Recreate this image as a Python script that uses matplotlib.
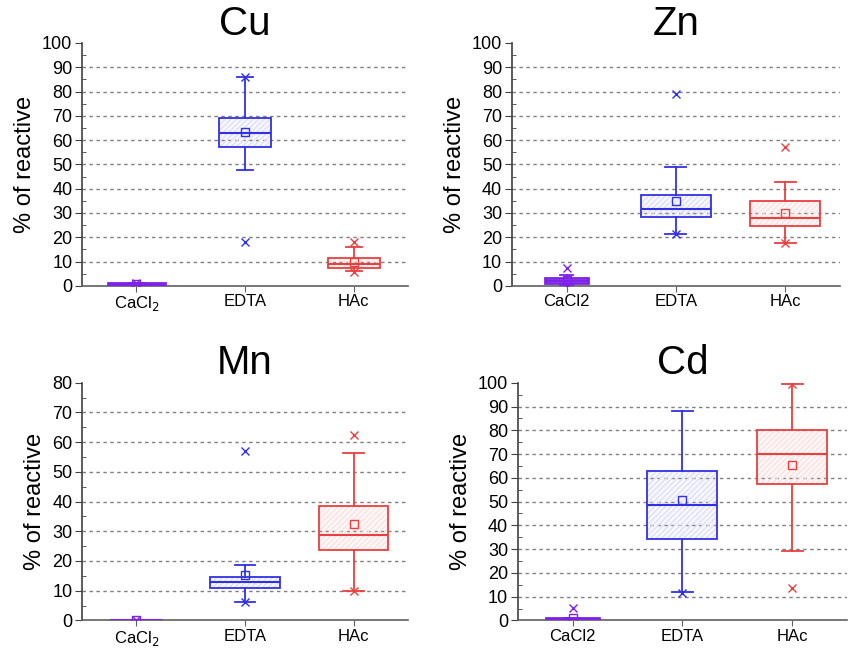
import matplotlib.pyplot as plt
from matplotlib.patches import PathPatch
from matplotlib.ticker import MultipleLocator

# extractants, same order in every panel
extractants_sub = ["CaCl$_2$", "EDTA", "HAc"]
extractants_plain = ["CaCl2", "EDTA", "HAc"]

# box stats: (whislo, q1, med, q3, whishi, mean)
cu_stats = [(0.0, 0.1, 0.5, 1.0, 1.1, 0.7),
            (47.5, 57.2, 62.8, 69.2, 86.0, 63.2),
            (6.0, 7.5, 9.0, 11.5, 16.0, 10.0)]
cu_fliers = [[1.3], [86.0, 18.2], [18.2, 5.5]]

zn_stats = [(0.3, 1.3, 2.1, 3.2, 4.3, 2.5),
            (21.3, 28.3, 31.5, 37.2, 48.8, 35.0),
            (17.6, 24.5, 27.9, 35.0, 42.7, 30.1)]
zn_fliers = [[7.3, 0.4], [79.0, 21.3], [57.2, 17.5]]

mn_stats = [(0.0, 0.05, 0.1, 0.2, 0.25, 0.1),
            (6.3, 10.9, 12.9, 14.7, 18.8, 15.3),
            (9.9, 23.6, 28.9, 38.4, 56.2, 32.6)]
mn_fliers = [[0.3], [57.1, 6.3], [62.4, 10.0]]

cd_stats = [(0.0, 0.1, 0.5, 1.0, 1.1, 0.9),
            (12.0, 34.3, 48.7, 62.7, 88.1, 50.5),
            (29.4, 57.5, 70.2, 80.0, 99.6, 65.4)]
cd_fliers = [[5.3], [11.6], [99.6, 13.6]]

colors = ["#7d22e6", "#3030e6", "#e8403f"]
hatch_colors = ["#e9defb", "#e0e0f5", "#f9e2e2"]
fill_colors = ["#f8f4ff", "#f7f7fd", "#fdf7f7"]

panels = [
    ("Cu", cu_stats, cu_fliers, extractants_sub, 100, [0.53, 0.48, 0.48], [0.0966, 0.561, 0.384, 0.373]),
    ("Zn", zn_stats, zn_fliers, extractants_plain, 100, [0.40, 0.64, 0.64], [0.603, 0.561, 0.386, 0.373]),
    ("Mn", mn_stats, mn_fliers, extractants_sub, 80, [0.48, 0.64, 0.64], [0.0966, 0.047, 0.384, 0.365]),
    ("Cd", cd_stats, cd_fliers, extractants_plain, 100, [0.48, 0.64, 0.64], [0.610, 0.047, 0.3875, 0.365]),
]

fig = plt.figure(figsize=(8.49, 6.51), dpi=100)
plt.rcParams['font.family'] = ['Liberation Sans', 'DejaVu Sans']

for title, stats, fliers, labels, ymax, widths, rect in panels:
    ax = fig.add_axes(rect)
    for i, (lo, q1, med, q3, hi, mean) in enumerate(stats):
        c = colors[i]
        st = dict(whislo=lo, q1=q1, med=med, q3=q3, whishi=hi,
                  mean=mean, fliers=fliers[i], label=labels[i])
        lw = 2.0 if i == 0 else 1.3   # the CaCl2 boxes are squashed to a thick bar
        res = ax.bxp([st], positions=[i + 1], widths=widths[i], patch_artist=True,
                     showmeans=True,
                     boxprops=dict(facecolor='none', edgecolor=c, linewidth=lw),
                     medianprops=dict(color=c, linewidth=1.5),
                     whiskerprops=dict(color=c, linewidth=1.3),
                     capprops=dict(color=c, linewidth=1.3),
                     capwidths=widths[i] * 0.3,
                     meanprops=dict(marker='s', markerfacecolor='none', markeredgecolor=c,
                                    markersize=6, markeredgewidth=1.0),
                     flierprops=dict(marker='x', markeredgecolor=c, markersize=5.5,
                                     markeredgewidth=1.0),
                     zorder=4)
        for box in res['boxes']:
            # pale fill under the grid, fine hatch above it
            ax.add_patch(PathPatch(box.get_path(), facecolor=fill_colors[i],
                                   edgecolor='none', zorder=1.5))
            ax.add_patch(PathPatch(box.get_path(), facecolor='none',
                                   edgecolor=hatch_colors[i], hatch='//////',
                                   linewidth=0, zorder=2.5))

    ax.set_xlim(0.5, 3.5)
    ax.set_ylim(0, ymax)
    ax.yaxis.set_major_locator(MultipleLocator(10))
    ax.yaxis.set_minor_locator(MultipleLocator(5))
    for g in range(10, ymax, 10):
        ax.axhline(g, color='#808080', linestyle=(0, (2.5, 2.5)), linewidth=1.0, zorder=2)
    ax.spines['top'].set_visible(False)
    ax.spines['right'].set_visible(False)
    ax.spines['left'].set_color('#404040')
    ax.spines['bottom'].set_color('#606060')
    ax.spines['left'].set_linewidth(1.2)
    ax.spines['bottom'].set_linewidth(1.2)
    ax.tick_params(axis='y', which='major', direction='out', length=5, labelsize=13,
                   color='#404040', pad=2)
    ax.tick_params(axis='y', which='minor', direction='in', length=3, color='#404040')
    ax.tick_params(axis='x', direction='out', length=4, labelsize=12, color='#606060', pad=2)
    ax.set_xticks([1, 2, 3])
    ax.set_xticklabels(labels)
    ax.set_ylabel("% of reactive", fontsize=17, labelpad=4)
    ax.set_title(title, fontsize=29, pad=6)

fig.savefig("out.png", dpi=100)
